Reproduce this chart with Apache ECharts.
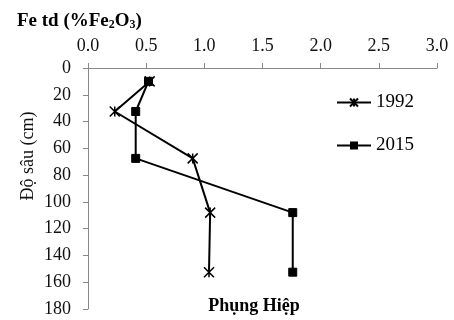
<!DOCTYPE html>
<html><head><meta charset="utf-8">
<script src="https://cdn.jsdelivr.net/npm/echarts@6/dist/echarts.min.js"></script>
<style>html,body{margin:0;padding:0;background:#fff}#c{width:454px;height:320px}</style>
</head><body><div id="c"></div>
<script>
const depths1992 = [10, 32.5, 67.5, 108, 152.5];
const fe1992 = [0.53, 0.23, 0.9, 1.05, 1.04];
const depths2015 = [10, 32.5, 67.5, 108, 152.5];
const fe2015 = [0.52, 0.41, 0.41, 1.76, 1.76];
const seriesNames = ['1992', '2015'];
const FONT = '"Liberation Serif", "Times New Roman", serif';
const star = 'path://M0,0L10,10M10,0L0,10M5,0L5,10';

const chart = echarts.init(document.getElementById('c'));
chart.setOption({
  animation: false,
  backgroundColor: '#fff',
  textStyle: { fontFamily: FONT },
  grid: { left: 88, right: 17, top: 68, bottom: 11 },
  title: {
    left: 12, top: 7,
    text: '{a|Fe td (%Fe}{s|2}{a|O}{s|3}{a|)}',
    textStyle: {
      rich: {
        a: { fontFamily: FONT, fontWeight: 'bold', fontSize: 19, color: '#000' },
        s: { fontFamily: FONT, fontWeight: 'bold', fontSize: 12, color: '#000', verticalAlign: 'bottom', padding: [6, 0, 0, 0] }
      }
    }
  },
  legend: {
    orient: 'vertical', left: 331, top: 88, itemGap: 24,
    itemWidth: 34, itemHeight: 10,
    textStyle: { fontFamily: FONT, fontSize: 19, color: '#000' },
    data: seriesNames
  },
  xAxis: {
    type: 'value', position: 'top', min: 0, max: 3, interval: 0.5,
    axisLine: { show: true, lineStyle: { color: '#888', width: 1 } },
    axisTick: { show: true, length: 5, lineStyle: { color: '#888' } },
    splitLine: { show: false },
    axisLabel: { fontFamily: FONT, fontSize: 18, color: '#111', margin: 13, formatter: v => v.toFixed(1) }
  },
  yAxis: {
    type: 'value', inverse: true, min: 0, max: 180, interval: 20,
    axisLine: { show: true, lineStyle: { color: '#888', width: 1 } },
    axisTick: { show: true, length: 5, lineStyle: { color: '#888' } },
    splitLine: { show: false },
    axisLabel: { fontFamily: FONT, fontSize: 18, color: '#111', margin: 17 }
  },
  graphic: [
    { type: 'text', x: 28, y: 156, rotation: Math.PI / 2,
      style: { text: 'Độ sâu (cm)', font: '18px ' + FONT, fill: '#111', align: 'center', verticalAlign: 'middle' } },
    { type: 'text', x: 254, y: 306,
      style: { text: 'Phụng Hiệp', font: 'bold 18px ' + FONT, fill: '#000', align: 'center', verticalAlign: 'middle' } }
  ],
  series: [
    {
      name: seriesNames[0], type: 'line',
      data: fe1992.map((v, i) => [v, depths1992[i]]),
      symbol: star, symbolSize: 10,
      lineStyle: { color: '#000', width: 2 },
      itemStyle: { color: 'none', borderColor: '#000', borderWidth: 1.5 }
    },
    {
      name: seriesNames[1], type: 'line',
      data: fe2015.map((v, i) => [v, depths2015[i]]),
      symbol: 'rect', symbolSize: 8,
      lineStyle: { color: '#000', width: 2 },
      itemStyle: { color: '#000', borderColor: '#000' }
    }
  ]
});
</script>
</body></html>
